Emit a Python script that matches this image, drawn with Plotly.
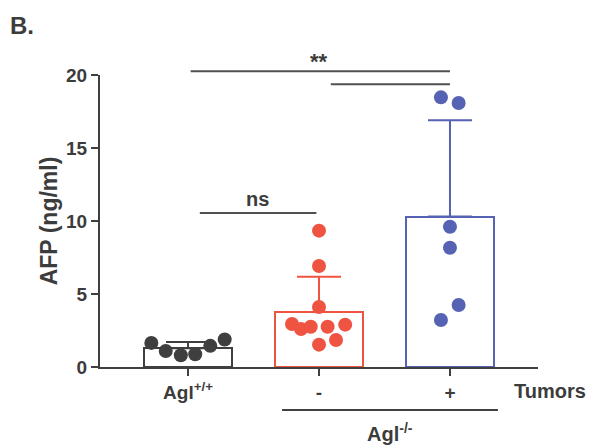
import plotly.graph_objects as go

# ---- data ----
group_labels = ["Agl<sup>+/+</sup>", "-", "+"]
group_pos = [0, 1, 2]
means = [1.29, 3.77, 10.3]
sd = [0.42, 2.42, 6.6]

wt_values = [1.65, 1.10, 0.80, 0.87, 1.45, 1.88]
wt_offsets = [-0.28, -0.17, -0.055, 0.055, 0.17, 0.28]

ko_notumor_values = [9.34, 6.92, 4.11, 2.95, 2.60, 2.76, 2.76, 2.90, 1.53, 1.85]
ko_notumor_offsets = [0.0, 0.0, 0.0, -0.206, -0.137, -0.063, 0.066, 0.20, 0.0, 0.13]

ko_tumor_values = [18.47, 18.08, 9.61, 8.17, 4.25, 3.22]
ko_tumor_offsets = [-0.069, 0.066, 0.0, 0.0, 0.066, -0.069]

colors = ["#3f3f3f", "#ef5341", "#5662b3"]
text_color = "#3c3c3c"
FONT = "Liberation Sans, Arial, sans-serif"

fig = go.Figure()

for i in range(3):
    fig.add_trace(go.Bar(
        x=[group_pos[i]], y=[means[i]], width=0.67,
        marker=dict(color="white", line=dict(color=colors[i], width=2)),
        error_y=dict(type="data", symmetric=False, array=[sd[i]], arrayminus=[0],
                     color=colors[i], thickness=2, width=22),
        showlegend=False, hoverinfo="skip",
    ))

point_sets = [(wt_values, wt_offsets), (ko_notumor_values, ko_notumor_offsets),
              (ko_tumor_values, ko_tumor_offsets)]
for i, (vals, offs) in enumerate(point_sets):
    fig.add_trace(go.Scatter(
        x=[group_pos[i] + o for o in offs], y=vals, mode="markers",
        marker=dict(color=colors[i], size=14, line=dict(width=0)),
        showlegend=False, cliponaxis=False,
    ))

# significance brackets
fig.add_shape(type="line", xref="x", yref="paper", x0=0.02, x1=2.0, y0=1.0127, y1=1.0127,
              line=dict(color="#505050", width=2))
fig.add_shape(type="line", xref="x", yref="y", x0=1.09, x1=2.0, y0=19.36, y1=19.36,
              line=dict(color="#505050", width=2))
fig.add_shape(type="line", xref="x", yref="y", x0=0.09, x1=0.98, y0=10.55, y1=10.55,
              line=dict(color="#505050", width=2))
# group line under x axis
fig.add_shape(type="line", xref="x", yref="paper", x0=0.718, x1=2.366, y0=-0.147, y1=-0.147,
              line=dict(color="#404040", width=2))

ann_font = dict(family=FONT, size=20, color=text_color, weight="bold")
fig.add_annotation(x=0.534, y=10.65, xref="x", yref="y", text="ns", showarrow=False,
                   font=ann_font, yanchor="bottom")
fig.add_annotation(x=1.0, y=0.996, xref="x", yref="paper", text="**", showarrow=False,
                   font=dict(family=FONT, size=22, color=text_color, weight="bold"),
                   yanchor="bottom")
fig.add_annotation(x=1.027, y=-0.082, xref="paper", yref="paper", text="Tumors",
                   showarrow=False, font=ann_font, xanchor="center", yanchor="middle")
fig.add_annotation(x=1.54, y=-0.225, xref="x", yref="paper", text="Agl<sup>-/-</sup>",
                   showarrow=False, font=ann_font, xanchor="center", yanchor="middle")
fig.add_annotation(x=-0.177, y=1.171, xref="paper", yref="paper", text="B.", showarrow=False,
                   font=dict(family=FONT, size=24, color=text_color, weight="bold"),
                   xanchor="center", yanchor="middle")

fig.update_layout(
    width=592, height=447,
    margin=dict(l=100, r=54, t=75, b=80),
    paper_bgcolor="white", plot_bgcolor="white",
    font=dict(family=FONT, color=text_color),
    bargap=0,
    xaxis=dict(range=[-0.672, 2.672], tickvals=group_pos,
               ticktext=group_labels, automargin=False,
               showline=True, linecolor="#404040", linewidth=2,
               ticks="outside", ticklen=7, tickwidth=2, tickcolor="#404040",
               showgrid=False, zeroline=False,
               tickfont=dict(family=FONT, size=19, color=text_color, weight="bold")),
    yaxis=dict(range=[0, 20], tickvals=[0, 5, 10, 15, 20], automargin=False,
               showline=True, linecolor="#404040", linewidth=2,
               ticks="outside", ticklen=7, tickwidth=2, tickcolor="#404040",
               showgrid=False, zeroline=False,
               tickfont=dict(family=FONT, size=19, color=text_color, weight="bold"),
               title=dict(text="AFP (ng/ml)", standoff=2,
                          font=dict(family=FONT, size=23, color=text_color, weight="bold"))),
)

fig.write_html("out.html", post_script="document.body.style.margin='0';",
               config={"displayModeBar": False})
